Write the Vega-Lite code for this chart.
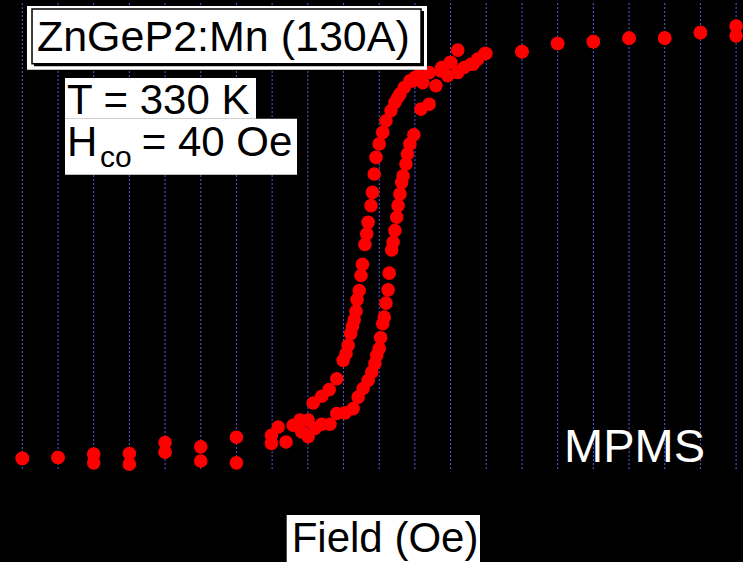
{
  "$schema": "https://vega.github.io/schema/vega-lite/v6.json",
  "width": 743,
  "height": 562,
  "autosize": {"type": "fit", "contains": "padding"},
  "padding": 0,
  "background": "#000000",
  "config": {
    "view": {"stroke": null},
    "text": {"font": "Liberation Sans"}
  },
  "datasets": {
    "gridlines": [
      {"H": -1000}, {"H": -900}, {"H": -800}, {"H": -700}, {"H": -600}, {"H": -500}, {"H": -400},
      {"H": -300}, {"H": -200}, {"H": -100}, {"H": 0}, {"H": 100}, {"H": 200}, {"H": 300},
      {"H": 400}, {"H": 500}, {"H": 600}, {"H": 700}, {"H": 800}, {"H": 900}, {"H": 1000}
    ],
    "single": [{}],
    "loop": [
      {"branch": "down", "H": 1000, "M": 0.977},
      {"branch": "down", "H": 900, "M": 0.992},
      {"branch": "down", "H": 800, "M": 0.966},
      {"branch": "down", "H": 700, "M": 0.966},
      {"branch": "down", "H": 600, "M": 0.950},
      {"branch": "down", "H": 500, "M": 0.941},
      {"branch": "down", "H": 400, "M": 0.903},
      {"branch": "down", "H": 299, "M": 0.894},
      {"branch": "down", "H": 276, "M": 0.868},
      {"branch": "down", "H": 257, "M": 0.844},
      {"branch": "down", "H": 220, "M": 0.910},
      {"branch": "down", "H": 201, "M": 0.852},
      {"branch": "down", "H": 173, "M": 0.813},
      {"branch": "down", "H": 140, "M": 0.805},
      {"branch": "down", "H": 122, "M": 0.758},
      {"branch": "down", "H": 110, "M": 0.790},
      {"branch": "down", "H": 100, "M": 0.782},
      {"branch": "down", "H": 94, "M": 0.766},
      {"branch": "down", "H": 86, "M": 0.766},
      {"branch": "down", "H": 70, "M": 0.735},
      {"branch": "down", "H": 58, "M": 0.704},
      {"branch": "down", "H": 52, "M": 0.688},
      {"branch": "down", "H": 44, "M": 0.665},
      {"branch": "down", "H": 33, "M": 0.626},
      {"branch": "down", "H": 19, "M": 0.579},
      {"branch": "down", "H": 10, "M": 0.525},
      {"branch": "down", "H": 0, "M": 0.471},
      {"branch": "down", "H": -9, "M": 0.408},
      {"branch": "down", "H": -14, "M": 0.330},
      {"branch": "down", "H": -19, "M": 0.244},
      {"branch": "down", "H": -23, "M": 0.182},
      {"branch": "down", "H": -31, "M": 0.104},
      {"branch": "down", "H": -35, "M": 0.050},
      {"branch": "down", "H": -40, "M": 0.000},
      {"branch": "down", "H": -47, "M": -0.093},
      {"branch": "down", "H": -51, "M": -0.145},
      {"branch": "down", "H": -56, "M": -0.215},
      {"branch": "down", "H": -62, "M": -0.258},
      {"branch": "down", "H": -65, "M": -0.312},
      {"branch": "down", "H": -70, "M": -0.352},
      {"branch": "down", "H": -75, "M": -0.383},
      {"branch": "down", "H": -80, "M": -0.417},
      {"branch": "down", "H": -87, "M": -0.472},
      {"branch": "down", "H": -93, "M": -0.511},
      {"branch": "down", "H": -101, "M": -0.542},
      {"branch": "down", "H": -119, "M": -0.628},
      {"branch": "down", "H": -140, "M": -0.679},
      {"branch": "down", "H": -161, "M": -0.710},
      {"branch": "down", "H": -185, "M": -0.742},
      {"branch": "down", "H": -199, "M": -0.822},
      {"branch": "down", "H": -222, "M": -0.822},
      {"branch": "down", "H": -241, "M": -0.846},
      {"branch": "down", "H": -283, "M": -0.854},
      {"branch": "down", "H": -302, "M": -0.893},
      {"branch": "down", "H": -400, "M": -0.902},
      {"branch": "down", "H": -500, "M": -0.947},
      {"branch": "down", "H": -600, "M": -0.927},
      {"branch": "down", "H": -700, "M": -0.978},
      {"branch": "down", "H": -800, "M": -0.981},
      {"branch": "down", "H": -900, "M": -0.997},
      {"branch": "down", "H": -1000, "M": -1.001},
      {"branch": "up", "H": -1000, "M": -1.001},
      {"branch": "up", "H": -900, "M": -0.997},
      {"branch": "up", "H": -800, "M": -1.022},
      {"branch": "up", "H": -700, "M": -1.028},
      {"branch": "up", "H": -600, "M": -0.972},
      {"branch": "up", "H": -500, "M": -1.013},
      {"branch": "up", "H": -400, "M": -1.022},
      {"branch": "up", "H": -302, "M": -0.931},
      {"branch": "up", "H": -261, "M": -0.924},
      {"branch": "up", "H": -217, "M": -0.877},
      {"branch": "up", "H": -199, "M": -0.900},
      {"branch": "up", "H": -180, "M": -0.861},
      {"branch": "up", "H": -161, "M": -0.841},
      {"branch": "up", "H": -138, "M": -0.841},
      {"branch": "up", "H": -119, "M": -0.791},
      {"branch": "up", "H": -96, "M": -0.788},
      {"branch": "up", "H": -73, "M": -0.768},
      {"branch": "up", "H": -59, "M": -0.714},
      {"branch": "up", "H": -45, "M": -0.674},
      {"branch": "up", "H": -31, "M": -0.636},
      {"branch": "up", "H": -21, "M": -0.597},
      {"branch": "up", "H": -12, "M": -0.557},
      {"branch": "up", "H": -7, "M": -0.519},
      {"branch": "up", "H": 0, "M": -0.487},
      {"branch": "up", "H": 4, "M": -0.436},
      {"branch": "up", "H": 10, "M": -0.371},
      {"branch": "up", "H": 14, "M": -0.340},
      {"branch": "up", "H": 19, "M": -0.274},
      {"branch": "up", "H": 25, "M": -0.212},
      {"branch": "up", "H": 28, "M": -0.134},
      {"branch": "up", "H": 35, "M": -0.025},
      {"branch": "up", "H": 39, "M": 0.011},
      {"branch": "up", "H": 44, "M": 0.065},
      {"branch": "up", "H": 49, "M": 0.128},
      {"branch": "up", "H": 53, "M": 0.182},
      {"branch": "up", "H": 58, "M": 0.237},
      {"branch": "up", "H": 63, "M": 0.291},
      {"branch": "up", "H": 67, "M": 0.322},
      {"branch": "up", "H": 75, "M": 0.377},
      {"branch": "up", "H": 79, "M": 0.424},
      {"branch": "up", "H": 86, "M": 0.471},
      {"branch": "up", "H": 97, "M": 0.514},
      {"branch": "up", "H": 117, "M": 0.634},
      {"branch": "up", "H": 140, "M": 0.657},
      {"branch": "up", "H": 159, "M": 0.743},
      {"branch": "up", "H": 175, "M": 0.829},
      {"branch": "up", "H": 192, "M": 0.790},
      {"branch": "up", "H": 198, "M": 0.852},
      {"branch": "up", "H": 220, "M": 0.805},
      {"branch": "up", "H": 238, "M": 0.829},
      {"branch": "up", "H": 263, "M": 0.844},
      {"branch": "up", "H": 296, "M": 0.894},
      {"branch": "up", "H": 400, "M": 0.903},
      {"branch": "up", "H": 500, "M": 0.941},
      {"branch": "up", "H": 600, "M": 0.950},
      {"branch": "up", "H": 700, "M": 0.966},
      {"branch": "up", "H": 800, "M": 0.966},
      {"branch": "up", "H": 900, "M": 0.992},
      {"branch": "up", "H": 1000, "M": 1.023}
    ]
  },
  "layer": [
    {
      "description": "dotted vertical field grid",
      "data": {"name": "gridlines"},
      "mark": {"type": "rule", "color": "#5858f0", "strokeWidth": 1, "strokeDash": [2, 2]},
      "encoding": {
        "x": {"field": "H", "type": "quantitative", "scale": {"domain": [-1062.5, 1019.3], "nice": false, "zero": false}, "axis": null},
        "y": {"datum": -1.051, "type": "quantitative", "scale": {"domain": [-1.486, 1.14], "nice": false, "zero": false}, "axis": null},
        "y2": {"datum": 1.14}
      }
    },
    {
      "description": "M(H) hysteresis loop",
      "data": {"name": "loop"},
      "mark": {"type": "circle", "color": "#ff0000", "opacity": 1, "size": 185},
      "encoding": {
        "x": {"field": "H", "type": "quantitative", "axis": null},
        "y": {"field": "M", "type": "quantitative", "axis": null}
      }
    },
    {
      "description": "sample label: outer white panel",
      "data": {"name": "single"},
      "mark": {"type": "rect", "color": "#ffffff"},
      "encoding": {
        "x": {"datum": -986.9, "type": "quantitative"}, "x2": {"datum": 133.9},
        "y": {"datum": 1.117, "type": "quantitative"}, "y2": {"datum": 0.818}
      }
    },
    {
      "description": "sample label: drop shadow",
      "data": {"name": "single"},
      "mark": {"type": "rect", "color": "#000000"},
      "encoding": {
        "x": {"datum": -967.2, "type": "quantitative"}, "x2": {"datum": 125.5},
        "y": {"datum": 1.093, "type": "quantitative"}, "y2": {"datum": 0.834}
      }
    },
    {
      "description": "sample label: framed box",
      "data": {"name": "single"},
      "mark": {"type": "rect", "fill": "#ffffff", "stroke": "#000000", "strokeWidth": 1.5},
      "encoding": {
        "x": {"datum": -972.8, "type": "quantitative"}, "x2": {"datum": 117.1},
        "y": {"datum": 1.103, "type": "quantitative"}, "y2": {"datum": 0.846}
      }
    },
    {
      "data": {"name": "single"},
      "mark": {"type": "text", "text": "ZnGeP2:Mn (130A)", "fontSize": 43, "color": "#000000", "align": "left", "baseline": "alphabetic"},
      "encoding": {
        "x": {"datum": -959, "type": "quantitative"},
        "y": {"datum": 0.907, "type": "quantitative"}
      }
    },
    {
      "description": "white panel behind the temperature line",
      "data": {"name": "single"},
      "mark": {"type": "rect", "color": "#ffffff"},
      "encoding": {
        "x": {"datum": -880.4, "type": "quantitative"}, "x2": {"datum": -345.2},
        "y": {"datum": 0.78, "type": "quantitative"}, "y2": {"datum": 0.589}
      }
    },
    {
      "description": "white panel behind the coercive field line",
      "data": {"name": "single"},
      "mark": {"type": "rect", "color": "#ffffff"},
      "encoding": {
        "x": {"datum": -880.4, "type": "quantitative"}, "x2": {"datum": -230.3},
        "y": {"datum": 0.589, "type": "quantitative"}, "y2": {"datum": 0.327}
      }
    },
    {
      "data": {"name": "single"},
      "mark": {"type": "text", "text": "T = 330 K", "fontSize": 42, "color": "#000000", "align": "left", "baseline": "alphabetic"},
      "encoding": {
        "x": {"datum": -874.8, "type": "quantitative"},
        "y": {"datum": 0.612, "type": "quantitative"}
      }
    },
    {
      "data": {"name": "single"},
      "mark": {"type": "text", "text": "H", "fontSize": 42, "color": "#000000", "align": "left", "baseline": "alphabetic"},
      "encoding": {
        "x": {"datum": -874.8, "type": "quantitative"},
        "y": {"datum": 0.416, "type": "quantitative"}
      }
    },
    {
      "data": {"name": "single"},
      "mark": {"type": "text", "text": "co", "fontSize": 30, "color": "#000000", "align": "left", "baseline": "alphabetic"},
      "encoding": {
        "x": {"datum": -782.5, "type": "quantitative"},
        "y": {"datum": 0.364, "type": "quantitative"}
      }
    },
    {
      "data": {"name": "single"},
      "mark": {"type": "text", "text": "= 40 Oe", "fontSize": 42, "color": "#000000", "align": "left", "baseline": "alphabetic"},
      "encoding": {
        "x": {"datum": -665.5, "type": "quantitative"},
        "y": {"datum": 0.416, "type": "quantitative"}
      }
    },
    {
      "data": {"name": "single"},
      "mark": {"type": "text", "text": "MPMS", "fontSize": 47, "color": "#ffffff", "align": "left", "baseline": "alphabetic"},
      "encoding": {
        "x": {"datum": 517.8, "type": "quantitative"},
        "y": {"datum": -1.019, "type": "quantitative"}
      }
    },
    {
      "description": "white panel behind the field axis title",
      "data": {"name": "single"},
      "mark": {"type": "rect", "color": "#ffffff"},
      "encoding": {
        "x": {"datum": -259.2, "type": "quantitative"}, "x2": {"datum": 282.4},
        "y": {"datum": -1.266, "type": "quantitative"}, "y2": {"datum": -1.486}
      }
    },
    {
      "data": {"name": "single"},
      "mark": {"type": "text", "text": "Field (Oe)", "fontSize": 42, "color": "#000000", "align": "left", "baseline": "alphabetic"},
      "encoding": {
        "x": {"datum": -245.2, "type": "quantitative"},
        "y": {"datum": -1.439, "type": "quantitative"}
      }
    }
  ]
}
